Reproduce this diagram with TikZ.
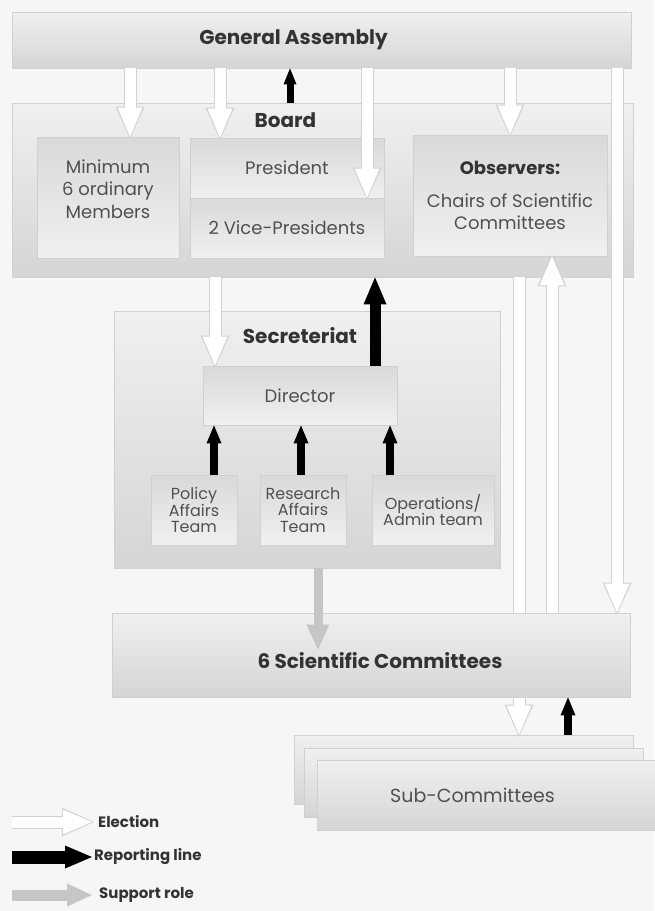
\documentclass[tikz,border=0pt]{standalone}
\usepackage{fontspec}
\setmainfont{Poppins}
\usetikzlibrary{arrows.meta,calc}

\definecolor{pagebg}{HTML}{F6F6F6}
\definecolor{boxedge}{HTML}{D0D0D0}
\definecolor{boxlight}{HTML}{F0F0F0}
\definecolor{boxdark}{HTML}{D5D5D5}
\definecolor{inktext}{HTML}{505050}
\definecolor{inktitle}{HTML}{333333}

\begin{document}
\begin{tikzpicture}[
            x=1pt, y=-1pt,
            box/.style={draw=boxedge, line width=0.8pt, top color=boxlight, bottom color=boxdark,
              inner sep=0pt, align=center, text=inktext, font=\fontsize{18}{22.5}\selectfont},
            inbox/.style={box, top color=boxdark!85!boxlight, bottom color=boxlight},
            teambox/.style={inbox, font=\fontsize{16}{16.5}\selectfont},
            title/.style={text=inktitle, font=\bfseries\fontsize{20}{24}\selectfont},
            legend/.style={anchor=west, inner sep=0pt, text=inktitle, font=\bfseries\fontsize{15}{17}\selectfont},
            elect/.style={draw=white, line width=11pt, -{Triangle[width=25pt,length=29pt,line width=0pt]},
              preaction={draw=gray!35, line width=13pt, shorten >=-2pt, -{Triangle[width=29pt,length=32pt,line width=0pt]}}},
            report/.style={draw=black, line width=11pt, -{Triangle[width=23pt,length=27pt,line width=0pt]}},
            smallreport/.style={draw=black, line width=8pt, -{Triangle[width=15pt,length=18pt,line width=0pt]}},
            support/.style={draw=gray!45, line width=9pt, -{Triangle[width=23pt,length=25pt,line width=0pt]}}
          ]
          \path[use as bounding box, fill=pagebg] (0,0) rectangle (654,911);

          % board and general assembly
          \node[box, minimum width=619pt, minimum height=56pt,
            label={[title, xshift=-28pt]center:General Assembly}] (ga) at (321.5,40) {};
          \node[box, minimum width=621pt, minimum height=174pt,
            label={[title, xshift=-37pt, yshift=70pt]center:Board}] (board) at (322.5,190) {};
          \node[inbox, minimum width=142pt, minimum height=121pt] (mini) at (108,197.5) {Minimum\\6 ordinary\\Members\\[-5pt]};
          \node[inbox, minimum width=194pt, minimum height=60pt] (pres) at (287,168) {President};
          \node[inbox, minimum width=194pt, minimum height=60pt] (vice) at (287,228) {2 Vice-Presidents};
          \node[inbox, minimum width=194pt, minimum height=121pt] (obs) at (510,195.5)
            {{\bfseries\color{inktitle}Observers:}\\[10pt]Chairs of Scientific\\Committees};

          % secreteriat
          \node[box, minimum width=386pt, minimum height=257pt,
            label={[title, xshift=-7pt, yshift=104pt]center:Secreteriat}] (sec) at (307,439.5) {};
          \node[inbox, minimum width=194pt, minimum height=59pt] (dir) at (300,395.5) {Director};
          \node[teambox, minimum width=86pt, minimum height=70pt] (pol) at (194,510) {Policy\\Affairs\\Team};
          \node[teambox, minimum width=86pt, minimum height=70pt] (res) at (303,510) {Research\\Affairs\\Team};
          \node[teambox, minimum width=122pt, minimum height=70pt] (ops) at (433,510) {Operations/\\Admin team};

          % sub-committees, behind the long election arrow
          \node[box, minimum width=339pt, minimum height=69pt] (sub1) at (463.5,769.5) {};
          \node[box, minimum width=339pt, minimum height=69pt] (sub2) at (473.5,782.5) {};
          \node[box, minimum width=343pt, minimum height=70pt,
            label={[xshift=-16pt, text=inktext, font=\fontsize{19}{22}\selectfont]center:Sub-Committees}] (sub3) at (488.5,795) {};
          \draw[elect] (board.south -| 519,0) -- (sub1.north -| 519,0);

          \node[box, minimum width=518pt, minimum height=84pt,
            label={[title, xshift=9pt, yshift=-6pt]center:6 Scientific Committees}] (sci) at (371,655) {};

          % election
          \draw[elect] (ga.south -| 130,0) -- (mini.north -| 130,0);
          \draw[elect] (ga.south -| 220,0) -- (pres.north -| 220,0);
          \draw[elect] (ga.south -| 367,0) -- (vice.north -| 367,0);
          \draw[elect] (ga.south -| 510,0) -- (obs.north -| 510,0);
          \draw[elect] (ga.south -| 617,0) -- (sci.north -| 617,0);
          \draw[elect] (board.south -| 215,0) -- (dir.north -| 215,0);
          \draw[elect] (sci.north -| 552,0) -- (obs.south -| 552,0);

          % reporting
          \draw[smallreport, line width=7pt, -{Triangle[width=13pt,length=16pt,line width=0pt]}] (board.north -| 290,0) -- (ga.south -| 290,0);
          \draw[report] (dir.north -| 375,0) -- (board.south -| 375,0);
          \draw[smallreport] (pol.north -| 214,0) -- (dir.south -| 214,0);
          \draw[smallreport] (res.north -| 301,0) -- (dir.south -| 301,0);
          \draw[smallreport] (ops.north -| 390,0) -- (dir.south -| 390,0);
          \draw[smallreport] (sub1.north -| 568,0) -- (sci.south -| 568,0);

          % support
          \coordinate (suptip) at ($(sci.north -| 318,0)+(0,37)$);
          \draw[support] (sec.south -| 318,0) -- (suptip);

          % legend
          \coordinate (le1) at (12,822);
          \coordinate (le2) at (92,822);
          \coordinate (lr1) at (12,857);
          \coordinate (lr2) at (92,857);
          \coordinate (ls1) at (12,895);
          \coordinate (ls2) at (92,895);
          \draw[elect] (le1) -- (le2);
          \draw[report, line width=13pt] (lr1) -- (lr2);
          \draw[support, line width=11pt] (ls1) -- (ls2);
          \node[legend] (lel) at (98,822) {Election};
          \node[legend] (lrl) at (94,857) {Reporting line};
          \node[legend] (lsl) at (99,895) {Support role};
        \end{tikzpicture}
\end{document}
